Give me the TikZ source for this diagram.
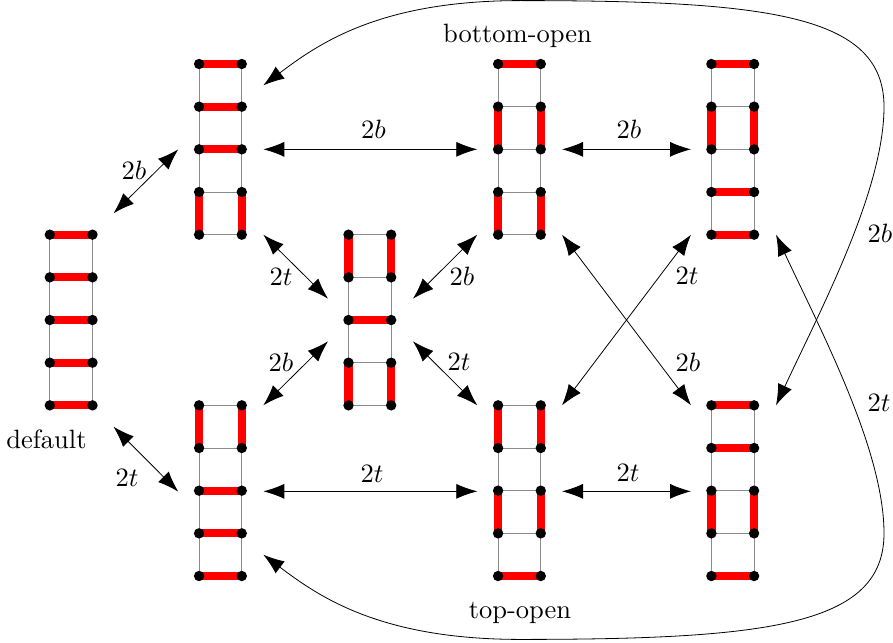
\documentclass[tikz,border=0pt]{standalone}
\usetikzlibrary{arrows.meta}
\tikzset{
  dot/.style={circle,fill=black,inner sep=0pt,minimum size=10.4pt},
  rail/.style={draw=black!45,line width=0.9pt},
  redbar/.style={draw=red,line width=8.2pt},
  link/.style={{Latex[length=21pt,width=15pt]}-{Latex[length=21pt,width=15pt]},line width=0.8pt,black},
  lab/.style={scale=2.65,inner sep=0pt}
}
\newcommand{\ladder}[5]{%
  \foreach \i in {0,1,2,3,4}{
    \coordinate (#1-\i-l) at (#2,#3+\i*42.67);
    \coordinate (#1-\i-r) at (#2+42.67,#3+\i*42.67);
  }
  \foreach \i in {0,1,2,3,4}{\draw[rail] (#1-\i-l) -- (#1-\i-r);}
  \foreach \i/\j in {0/1,1/2,2/3,3/4}{
    \draw[rail] (#1-\i-l) -- (#1-\j-l);
    \draw[rail] (#1-\i-r) -- (#1-\j-r);
  }
  \foreach \i in {#4}{\draw[redbar] (#1-\i-l) -- (#1-\i-r);}
  \foreach \i/\j in {#5}{
    \draw[redbar] (#1-\i-l) -- (#1-\j-l);
    \draw[redbar] (#1-\i-r) -- (#1-\j-r);
  }
  \foreach \i in {0,1,2,3,4}{
    \node[dot] (#1-\i-l) at (#2,#3+\i*42.67) {};
    \node[dot] (#1-\i-r) at (#2+42.67,#3+\i*42.67) {};
  }
}
\begin{document}
\begin{tikzpicture}[x=1pt,y=-1pt]
\useasboundingbox (0,0) rectangle (893,642);
\ladder{L}{49.8}{234.67}{0,1,2,3,4}{}
\ladder{A}{199.1}{64}{0,1,2}{3/4}
\ladder{B}{199.1}{405.33}{2,3,4}{0/1}
\ladder{C}{348.5}{234.67}{2}{0/1,3/4}
\ladder{D}{498.1}{64}{0}{1/2,3/4}
\ladder{E}{498.1}{405.33}{4}{0/1,2/3}
\ladder{F}{711.4}{64}{0,3,4}{1/2}
\ladder{G}{711.4}{405.33}{0,1,4}{2/3}

\coordinate (p1) at (113.5,213.33);  \coordinate (p2) at (178.3,149.33);
\coordinate (p3) at (113.5,426.67);  \coordinate (p4) at (178.3,491.67);
\coordinate (p5) at (263.3,149.33);  \coordinate (p6) at (477.3,149.33);
\coordinate (p7) at (562,149.33);    \coordinate (p8) at (691,149.33);
\coordinate (p9) at (263.3,491.33);  \coordinate (p10) at (477.3,491.33);
\coordinate (p11) at (562,491.33);   \coordinate (p12) at (691,491.33);
\coordinate (p13) at (263.3,234.67); \coordinate (p14) at (328,298.67);
\coordinate (p15) at (413,298.67);   \coordinate (p16) at (477.3,234.67);
\coordinate (p17) at (263.3,405.33); \coordinate (p18) at (328,341.33);
\coordinate (p19) at (413,341.33);   \coordinate (p20) at (477.3,405.33);
\coordinate (p21) at (562,234.67);   \coordinate (p22) at (691,405.33);
\coordinate (p23) at (691,234.67);   \coordinate (p24) at (562,405.33);
\coordinate (p25) at (263.3,85.33);  \coordinate (p26) at (776,405.33);
\coordinate (p27) at (776,234.67);   \coordinate (p28) at (263.3,554.67);

\draw[link] (p1) -- (p2);
\draw[link] (p3) -- (p4);
\draw[link] (p5) -- (p6);
\draw[link] (p7) -- (p8);
\draw[link] (p9) -- (p10);
\draw[link] (p11) -- (p12);
\draw[link] (p13) -- (p14);
\draw[link] (p15) -- (p16);
\draw[link] (p17) -- (p18);
\draw[link] (p19) -- (p20);
\draw[link] (p21) -- (p22);
\draw[link] (p23) -- (p24);
\draw[link] (p25) .. controls (319,43.4) and (380,0.6) .. (520,0.6)
  .. controls (770,0.6) and (884,15) .. (884,106.67)
  .. controls (884,190) and (821,309) .. (p26);
\draw[link] (p28) .. controls (319,596.6) and (380,639.4) .. (520,639.4)
  .. controls (770,639.4) and (884,625) .. (884,533.33)
  .. controls (884,450) and (821,331) .. (p27);

\node[lab] (t1) at (134,170) {$2b$};
\node[lab] (t2) at (127,478) {$2t$};
\node[lab] (t3) at (373.5,129) {$2b$};
\node[lab] (t4) at (629,129) {$2b$};
\node[lab] (t5) at (372,474) {$2t$};
\node[lab] (t6) at (628,473) {$2t$};
\node[lab] (t7) at (281,277) {$2t$};
\node[lab] (t8) at (462,276) {$2b$};
\node[lab] (t9) at (281,362) {$2b$};
\node[lab] (t10) at (459,362) {$2t$};
\node[lab] (t11) at (687,276) {$2t$};
\node[lab] (t12) at (688,362) {$2b$};
\node[lab] (t13) at (880,233) {$2b$};
\node[lab] (t14) at (879,403) {$2t$};
\node[lab] (t15) at (46.5,439) {default};
\node[lab] (t16) at (517.5,35.5) {bottom-open};
\node[lab] (t17) at (520,613) {top-open};
\end{tikzpicture}
\end{document}
